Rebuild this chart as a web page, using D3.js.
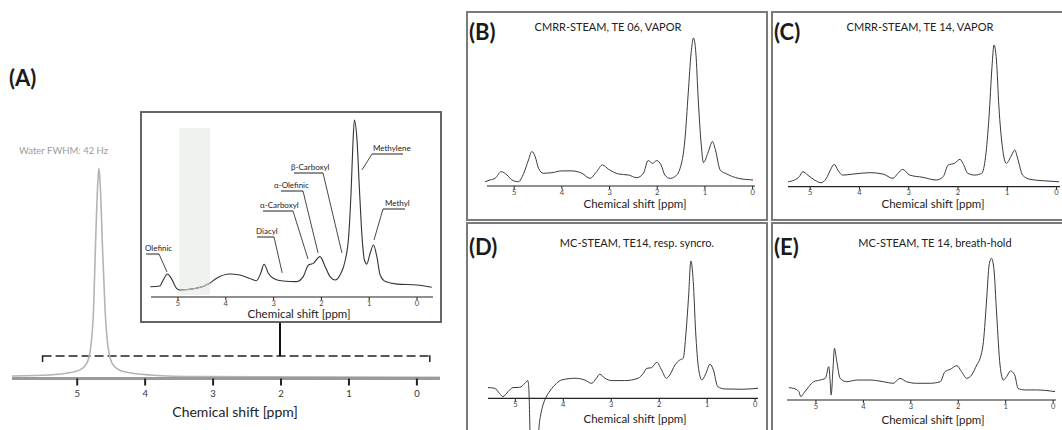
<!DOCTYPE html>
<html><head><meta charset="utf-8">
<script src="https://cdn.jsdelivr.net/npm/d3@7"></script>
<style>
body{margin:0;background:#fff;}
svg{display:block;}
text{font-family:Lato,"Open Sans",sans-serif;}
</style></head>
<body><svg id="c" width="1062" height="430"></svg>
<script>
// ---------------- DATA ----------------
const tickPpm = [5, 4, 3, 2, 1, 0];
const axisTitle = "Chemical shift [ppm]";

// (A) water reference spectrum (normalised intensity)
const waterPpm = [5.96, 5.4, 5.16, 4.96, 4.86, 4.8, 4.76, 4.73, 4.7, 4.68, 4.66, 4.63, 4.59, 4.54, 4.47, 4.32, 3.93, 3.19, -0.34];
const waterInt = [1.1, 1.6, 2.4, 4.0, 7.1, 15.1, 32.5, 64.3, 91.3, 100, 91.3, 64.3, 32.5, 13.5, 6.3, 3.2, 1.6, 0.8, 0.5];
const waterLabel = "Water FWHM: 42 Hz";

// (A) inset: lipid spectrum
const insetPpm = [5.58, 5.38, 5.31, 5.22, 5.14, 5.03, 4.97, 4.62, 4.34, 4.2, 3.92, 3.71, 3.5, 3.36, 3.27, 3.2, 3.11, 3.0, 2.8, 2.52, 2.38, 2.27, 2.17, 2.03, 1.92, 1.82, 1.71, 1.61, 1.5, 1.43, 1.38, 1.34, 1.31, 1.26, 1.2, 1.15, 1.1, 1.05, 0.98, 0.91, 0.84, 0.77, 0.66, 0.42, 0, -0.31];
const insetInt = [5.8, 6.2, 9.6, 13.0, 10.5, 4.9, 4.0, 4.9, 7.7, 10.5, 13.0, 12.4, 10.5, 9.2, 13.4, 18.5, 13.4, 10.5, 9.0, 8.7, 11.5, 18.1, 19.0, 22.8, 17.1, 11.5, 9.6, 12.4, 20.9, 34.1, 58.6, 86.8, 100, 90.6, 58.6, 34.1, 20.9, 18.6, 24.7, 29.4, 22.8, 12.4, 8.7, 7.3, 6.8, 5.5];
const suppressedRange = [4.97, 4.33];
const peakNames = ["Olefinic", "Diacyl", "α-Carboxyl", "α-Olefinic", "β-Carboxyl", "Methylene", "Methyl"];
const peakTipPpm = [5.23, 2.82, 2.28, 2.07, 1.57, 1.15, 0.90];
const peakTipInt = [14.1, 13.6, 21.5, 24.9, 24.9, 71.8, 32.2];

// (B)-(E)
const panelLetters = ["(B)", "(C)", "(D)", "(E)"];
const panelTitles = ["CMRR-STEAM, TE 06, VAPOR", "CMRR-STEAM, TE 14, VAPOR", "MC-STEAM, TE14, resp. syncro.", "MC-STEAM, TE 14, breath-hold"];

const bPpm = [5.61, 5.5, 5.4, 5.27, 5.15, 5.05, 4.91, 4.8, 4.7, 4.63, 4.56, 4.49, 4.39, 4.21, 4.0, 3.79, 3.58, 3.41, 3.27, 3.15, 3.02, 2.81, 2.6, 2.43, 2.29, 2.19, 2.1, 2.01, 1.92, 1.84, 1.73, 1.63, 1.52, 1.42, 1.35, 1.29, 1.24, 1.19, 1.14, 1.08, 1.03, 0.94, 0.84, 0.78, 0.68, 0.54, 0.3, -0.01];
const bInt = [2.9, 4.1, 5.2, 9.7, 7.4, 4.1, 2.9, 8.6, 17.6, 23.3, 19.9, 12.0, 8.6, 9.0, 10.2, 10.2, 8.6, 5.2, 9.7, 14.2, 11.3, 8.1, 7.4, 5.6, 8.6, 17.2, 15.3, 17.2, 14.2, 7.4, 5.2, 6.3, 12.0, 31.2, 62.8, 89.8, 100, 89.8, 58.2, 28.9, 15.8, 22.1, 30.0, 24.4, 10.8, 8.1, 5.2, 4.1];

const cPpm = [5.45, 5.32, 5.22, 5.15, 5.05, 4.91, 4.78, 4.67, 4.59, 4.51, 4.44, 4.34, 4.13, 3.79, 3.52, 3.32, 3.22, 3.12, 2.98, 2.71, 2.44, 2.3, 2.2, 2.07, 1.96, 1.9, 1.8, 1.66, 1.52, 1.44, 1.37, 1.31, 1.27, 1.22, 1.17, 1.1, 1.02, 0.91, 0.85, 0.78, 0.69, 0.54, 0.27, -0.05];
const cInt = [3.5, 4.7, 7.1, 10.6, 8.2, 4.7, 2.8, 5.9, 11.8, 15.8, 11.8, 8.2, 8.9, 9.9, 8.9, 5.9, 9.4, 12.2, 8.2, 6.6, 4.7, 7.1, 15.3, 16.5, 19.3, 16.5, 9.4, 8.2, 9.4, 21.2, 49.4, 84.7, 100, 89.4, 56.5, 28.2, 16.5, 22.4, 25.9, 18.8, 8.2, 5.2, 4.2, 3.5];

const dPpm = [5.57, 5.43, 5.33, 5.26, 5.15, 5.05, 4.91, 4.8, 4.74, 4.72, 4.69, 4.64, 4.59, 4.55, 4.51, 4.47, 4.44, 4.37, 4.28, 4.14, 4.04, 3.76, 3.55, 3.41, 3.31, 3.24, 3.13, 2.99, 2.72, 2.44, 2.33, 2.26, 2.16, 2.05, 1.95, 1.85, 1.78, 1.67, 1.57, 1.5, 1.44, 1.39, 1.34, 1.29, 1.24, 1.18, 1.11, 1.04, 0.94, 0.87, 0.78, 0.63, 0.28, -0.06];
const dInt = [7.8, 7.3, 3.6, 1.2, 4.9, 7.8, 8.0, 10.9, 12.9, 8.0, -30, -90, -110, -60, -23, -12, -7, 0, 5.3, 10.9, 13.3, 14.6, 13.3, 10.9, 14.6, 17.5, 14.6, 12.9, 12.9, 14.6, 18.2, 21.8, 22.3, 26.2, 20.6, 14.6, 17.0, 24.3, 27.9, 29.1, 48.5, 72.8, 100, 85, 48.5, 21.8, 13.3, 17.0, 24.8, 20.6, 8.5, 6.8, 6.6, 7.3];

const ePpm = [5.57, 5.47, 5.36, 5.32, 5.26, 5.15, 5.05, 4.91, 4.8, 4.73, 4.7, 4.68, 4.64, 4.61, 4.56, 4.49, 4.35, 4.14, 3.86, 3.58, 3.37, 3.23, 3.09, 2.88, 2.59, 2.38, 2.28, 2.17, 2.03, 1.93, 1.82, 1.72, 1.61, 1.54, 1.47, 1.4, 1.35, 1.3, 1.25, 1.19, 1.12, 1.05, 0.98, 0.9, 0.81, 0.74, 0.6, 0.35, -0.04];
const eInt = [8.7, 8.2, 5.9, 2.4, 4.7, 9.4, 12.9, 14.1, 15.3, 23.5, 12.9, 3.5, 22.4, 36.5, 27.1, 15.3, 12.9, 14.1, 14.1, 12.9, 11.8, 15.3, 12.9, 11.8, 11.8, 12.9, 20.0, 21.6, 24.2, 20.0, 15.3, 17.6, 24.7, 29.4, 41.2, 71.8, 95.3, 100, 92.9, 60, 24.7, 14.1, 16.5, 20.5, 17.6, 8.2, 7.1, 7.1, 5.9];

// ---------------- DRAW ----------------
const svg = d3.select("#c");
const defs = svg.append("defs");
const zip = (a, b) => a.map((v, i) => [v, b[i]]);

function drawAxis(g, x, y0, tickLen, fontSize, color, lineColor, lineWidth, tickWidth, labelDy) {
  const [r0, r1] = x.range();
  g.append("line").attr("x1", r0).attr("x2", r1).attr("y1", y0).attr("y2", y0)
    .attr("stroke", lineColor).attr("stroke-width", lineWidth);
  tickPpm.forEach(t => {
    g.append("line").attr("x1", x(t)).attr("x2", x(t)).attr("y1", y0).attr("y2", y0 + tickLen)
      .attr("stroke", "#222").attr("stroke-width", tickWidth);
    g.append("text").attr("x", x(t)).attr("y", y0 + labelDy).attr("text-anchor", "middle")
      .attr("font-size", fontSize).attr("fill", color).text(t);
  });
}

// ===== Panel A =====
const gA = svg.append("g");
gA.append("text").attr("x", 9).attr("y", 86).attr("font-family", "Liberation Sans, Arial, sans-serif")
  .attr("font-weight", "bold").attr("font-size", 22).attr("fill", "#1a1a1a").text("(A)");

const xA = d3.scaleLinear().domain([5.96, -0.34]).range([12, 440]);
const yA = d3.scaleLinear().domain([0, 100]).range([378.3, 168.3]);
const lineA = d3.line().x(d => xA(d[0])).y(d => yA(d[1])).curve(d3.curveMonotoneX);

// bracket (dashed) linking to inset
const bracketPpm = [5.51, -0.19];
const bY = 356;
gA.append("line").attr("x1", xA(bracketPpm[0])).attr("x2", xA(bracketPpm[1])).attr("y1", bY).attr("y2", bY)
  .attr("stroke", "#222").attr("stroke-width", 1.5).attr("stroke-dasharray", "9,4");
[bracketPpm[0], bracketPpm[1]].forEach(p => {
  gA.append("line").attr("x1", xA(p)).attr("x2", xA(p)).attr("y1", bY - 0.7).attr("y2", bY + 6)
    .attr("stroke", "#222").attr("stroke-width", 1.5);
});
gA.append("line").attr("x1", 280).attr("x2", 280).attr("y1", 322).attr("y2", bY)
  .attr("stroke", "#111").attr("stroke-width", 2);

gA.append("path").datum(zip(waterPpm, waterInt)).attr("d", lineA)
  .attr("fill", "none").attr("stroke", "#b4b4b4").attr("stroke-width", 1.6);
drawAxis(gA, xA, 378.5, 7, 9.5, "#333", "#9a9a9a", 3, 2, 18);
gA.append("text").attr("x", 235).attr("y", 417).attr("text-anchor", "middle")
  .attr("font-size", 14).attr("fill", "#222").text(axisTitle);
gA.append("text").attr("x", 19).attr("y", 154).attr("font-size", 9.5).attr("fill", "#9c9c9c").text(waterLabel);

// ===== Inset =====
const gI = svg.append("g");
gI.append("rect").attr("x", 141).attr("y", 112).attr("width", 300).attr("height", 210)
  .attr("fill", "#fff").attr("stroke", "#555").attr("stroke-width", 1.8);
const xI = d3.scaleLinear().domain([5.565, -0.335]).range([151, 433]);
const yI = d3.scaleLinear().domain([0, 100]).range([297, 120]);
const lineI = d3.line().x(d => xI(d[0])).y(d => yI(d[1])).curve(d3.curveMonotoneX);
gI.append("rect").attr("x", xI(suppressedRange[0])).attr("y", 128)
  .attr("width", xI(suppressedRange[1]) - xI(suppressedRange[0])).attr("height", 167)
  .attr("fill", "#eef1ee");
defs.append("clipPath").attr("id", "supp").append("rect")
  .attr("x", xI(suppressedRange[0])).attr("y", 100)
  .attr("width", xI(suppressedRange[1]) - xI(suppressedRange[0])).attr("height", 220);
gI.append("path").datum(zip(insetPpm, insetInt)).attr("d", lineI)
  .attr("fill", "none").attr("stroke", "#333").attr("stroke-width", 1.1);
gI.append("path").datum(zip(insetPpm, insetInt)).attr("d", lineI).attr("clip-path", "url(#supp)")
  .attr("fill", "none").attr("stroke", "#a8a8a8").attr("stroke-width", 1.3);
drawAxis(gI, xI, 297, 3, 7.5, "#444", "#222", 1.2, 1, 9);
gI.append("text").attr("x", 299).attr("y", 318).attr("text-anchor", "middle")
  .attr("font-size", 11.5).attr("fill", "#222").text(axisTitle);

// label layout: [underline x1, underline x2, underline y, elbow side, text start x]
const labelLayout = [
  [146, 159, 254, "r", 145],
  [257, 274, 237, "r", 256],
  [263, 293, 211, "r", 260],
  [281, 303, 191, "r", 274],
  [294, 323, 173, "r", 291],
  [372, 403, 154, "l", 373],
  [383, 405, 209, "l", 385]
];
peakNames.forEach((n, i) => {
  const [x1, x2, uy, side, tx] = labelLayout[i];
  const ex = side === "r" ? x2 : x1;
  gI.append("line").attr("x1", x1).attr("x2", x2).attr("y1", uy).attr("y2", uy)
    .attr("stroke", "#222").attr("stroke-width", 1);
  gI.append("line").attr("x1", ex).attr("y1", uy).attr("x2", xI(peakTipPpm[i])).attr("y2", yI(peakTipInt[i]))
    .attr("stroke", "#333").attr("stroke-width", 0.9);
  gI.append("text").attr("x", tx).attr("y", uy - 3).attr("text-anchor", "start")
    .attr("font-size", 8).attr("fill", "#222").text(n);
});

// ===== Panels B-E =====
const panels = [
  {box: [467, 12, 300, 208], xd: [5.57, -0.05], xr: [487, 755], y0: 186, yTop: 38, ppm: bPpm, val: bInt, tx: 608, ty: 31, ax: 635, ay: 208},
  {box: [772, 12, 292, 208], xd: [5.45, -0.07], xr: [788, 1060], y0: 186.7, yTop: 45, ppm: cPpm, val: cInt, tx: 920, ty: 31, ax: 933, ay: 208},
  {box: [467, 223, 300, 220], xd: [5.57, -0.06], xr: [488, 758], y0: 398.3, yTop: 261, ppm: dPpm, val: dInt, tx: 637, ty: 247, ax: 635, ay: 423},
  {box: [772, 223, 292, 220], xd: [5.61, -0.06], xr: [787, 1056], y0: 400, yTop: 258.3, ppm: ePpm, val: eInt, tx: 935, ty: 247, ax: 933, ay: 424}
];
panels.forEach((p, i) => {
  const g = svg.append("g");
  const [bx, by, bw, bh] = p.box;
  g.append("rect").attr("x", bx).attr("y", by).attr("width", bw).attr("height", bh)
    .attr("fill", "#fff").attr("stroke", "#7a7a7a").attr("stroke-width", 2);
  defs.append("clipPath").attr("id", "clip" + i).append("rect")
    .attr("x", bx + 1).attr("y", by + 1).attr("width", bw - 2).attr("height", bh - 2);
  const x = d3.scaleLinear().domain(p.xd).range(p.xr);
  const y = d3.scaleLinear().domain([0, 100]).range([p.y0, p.yTop]);
  const ln = d3.line().x(d => x(d[0])).y(d => y(d[1])).curve(d3.curveMonotoneX);
  drawAxis(g, x, p.y0, 3, 7.5, "#444", "#222", 1.2, 1, 8.5);
  g.append("path").datum(zip(p.ppm, p.val)).attr("d", ln).attr("clip-path", "url(#clip" + i + ")")
    .attr("fill", "none").attr("stroke", "#3a3a3a").attr("stroke-width", 1);
  g.append("text").attr("x", bx + 2).attr("y", by + (i < 2 ? 28 : 32)).attr("font-family", "Liberation Sans, Arial, sans-serif")
    .attr("font-weight", "bold").attr("font-size", 22).attr("fill", "#1a1a1a").text(panelLetters[i]);
  g.append("text").attr("x", p.tx).attr("y", p.ty).attr("text-anchor", "middle")
    .attr("font-size", 11).attr("fill", "#222").text(panelTitles[i]);
  g.append("text").attr("x", p.ax).attr("y", p.ay).attr("text-anchor", "middle")
    .attr("font-size", 11.5).attr("fill", "#222").text(axisTitle);
});
</script></body></html>
